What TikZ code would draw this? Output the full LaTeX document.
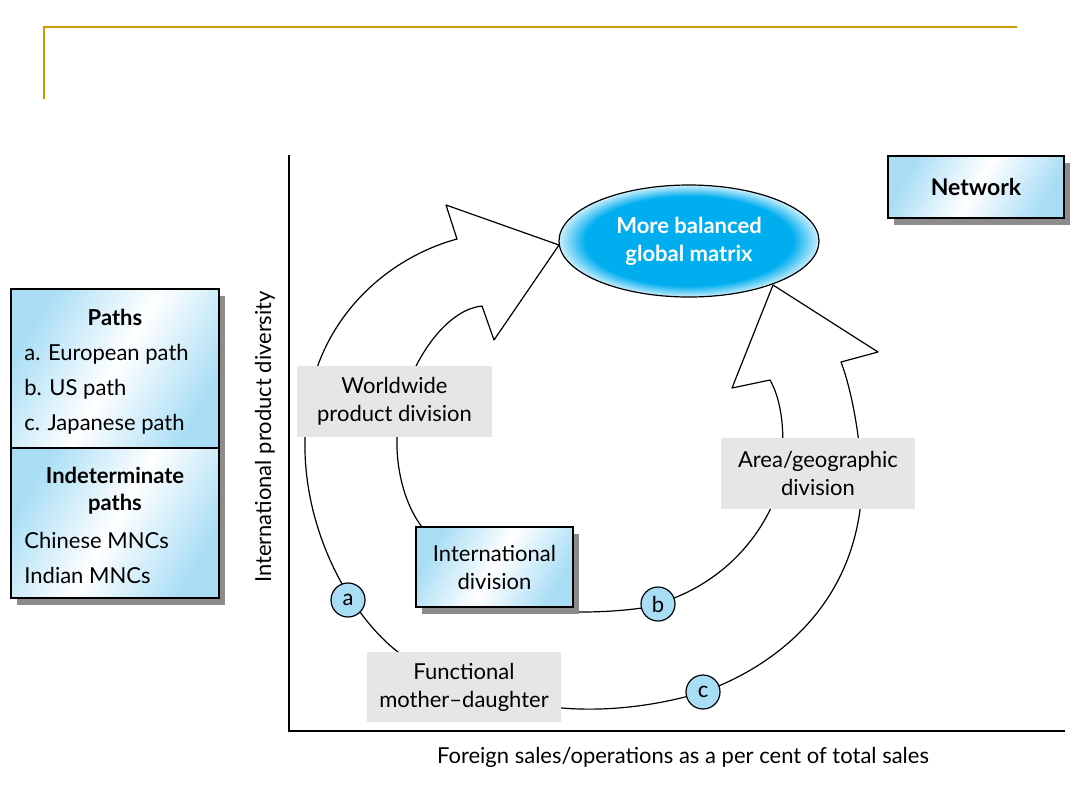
\documentclass[tikz,border=0pt]{standalone}
\usepackage{fontspec}
\setmainfont{Lato}
\usetikzlibrary{shapes.geometric,shadows}
\definecolor{gold}{RGB}{204,153,0}
\definecolor{skyfill}{RGB}{168,221,245}
\definecolor{balloon}{RGB}{0,174,239}
\definecolor{tagfill}{RGB}{230,230,232}
\pgfdeclareradialshading{glow}{\pgfpoint{0bp}{0bp}}{color(0bp)=(balloon); color(20bp)=(balloon); color(25bp)=(white!80!balloon); color(50bp)=(white)}

\begin{document}
\begin{tikzpicture}[x=0.5pt,y=-0.5pt,
  txt/.style={font=\fontsize{11}{14}\selectfont},
  keyline/.style={txt,inner sep=0pt,anchor=base west},
  skybox/.style={txt,draw,line width=1pt,inner sep=0pt,align=center,
    left color=skyfill,right color=skyfill,middle color=white,shading angle=60,
    drop shadow={shadow xshift=3pt,shadow yshift=-3.5pt,fill=black!45,opacity=1}},
  tagbox/.style={txt,fill=tagfill,inner sep=0pt,align=center},
  pathmark/.style={txt,circle,draw,line width=0.6pt,fill=skyfill,minimum size=17pt,inner sep=0pt},
  band/.style={line width=0.6pt,line join=round}]
\useasboundingbox (0,0) rectangle (1080,810);
% slide frame
\draw[gold,line width=1.1pt] (44,99) -- (44,27) -- (1017,27);
% axes
\draw[line width=1pt] (289,155) -- (289,731) -- (1065,731);
\node[txt,rotate=90] (ylab) at (265,437) {International product diversity};
\node[txt,anchor=base] (xlab) at (683,763) {Foreign sales/operations as a per cent of total sales};
% the two curved arrows, drawn as one outline
\draw[band] (559,245) -- (446,205) -- (457,239)
  .. controls (380,260) and (305,330) .. (305,440)
  .. controls (303,530) and (350,615) .. (398,652)
  .. controls (440,690) and (500,708) .. (562,708)
  .. controls (610,712) and (660,705) .. (703,692)
  .. controls (760,672) and (845,620) .. (860,510)
  .. controls (866,460) and (852,390) .. (841,362)
  -- (878,352) -- (773,285) -- (732,388) -- (770,380)
  .. controls (790,415) and (784,480) .. (770,510)
  .. controls (745,560) and (700,595) .. (642,608)
  .. controls (620,611) and (600,612) .. (580,612)
  .. controls (500,610) and (440,570) .. (422,527)
  .. controls (405,505) and (396,470) .. (397,438)
  .. controls (398,380) and (440,310) .. (482,306)
  -- (494,340) -- cycle;
% goal of the paths
\node[ellipse,draw,line width=0.6pt,shading=glow,minimum width=130pt,minimum height=56pt,
  inner sep=0pt,align=center,text=white,font=\fontsize{11}{14}\selectfont\bfseries]
  (matrix) at (689,241) {More balanced\\global matrix};
\node[skybox,font=\fontsize{11.5}{14}\selectfont\bfseries,minimum width=88pt,minimum height=31pt]
  (net) at (976,187) {Network};
% structures on the way
\node[tagbox,minimum width=97.5pt,minimum height=35.5pt] (wwide) at (394.5,401.5) {Worldwide\\product division};
\node[skybox,minimum width=78.5pt,minimum height=40pt] (intl) at (494.5,567) {International\\division};
\node[tagbox,minimum width=97pt,minimum height=35pt] (func) at (464,687) {Functional\\mother--daughter};
\node[tagbox,minimum width=97pt,minimum height=35.5pt] (area) at (818,473.5) {Area/geographic\\division};
\node[pathmark] (pa) at (348,600) {a};
\node[pathmark] (pb) at (658,604) {b};
\node[pathmark] (pc) at (703,692) {c};
% legend
\node[skybox,minimum width=104pt,minimum height=79.5pt] (keytop) at (115,368.5) {};
\node[skybox,minimum width=104pt,minimum height=75pt] (keybot) at (115,523) {};
\node[txt,font=\fontsize{11}{14}\selectfont\bfseries,anchor=base] (khead) at (115,325) {Paths};
\node[keyline] (ka) at (24,360) {a. European path};
\node[keyline] (kb) at (24,395) {b. US path};
\node[keyline] (kc) at (24,430) {c. Japanese path};
\node[txt,font=\fontsize{11}{14}\selectfont\bfseries,anchor=base] (khead2) at (115,483) {Indeterminate};
\node[txt,font=\fontsize{11}{14}\selectfont\bfseries,anchor=base] (khead3) at (115,510) {paths};
\node[keyline] (kd) at (24,548) {Chinese MNCs};
\node[keyline] (ke) at (24,583) {Indian MNCs};
\end{tikzpicture}
\end{document}
